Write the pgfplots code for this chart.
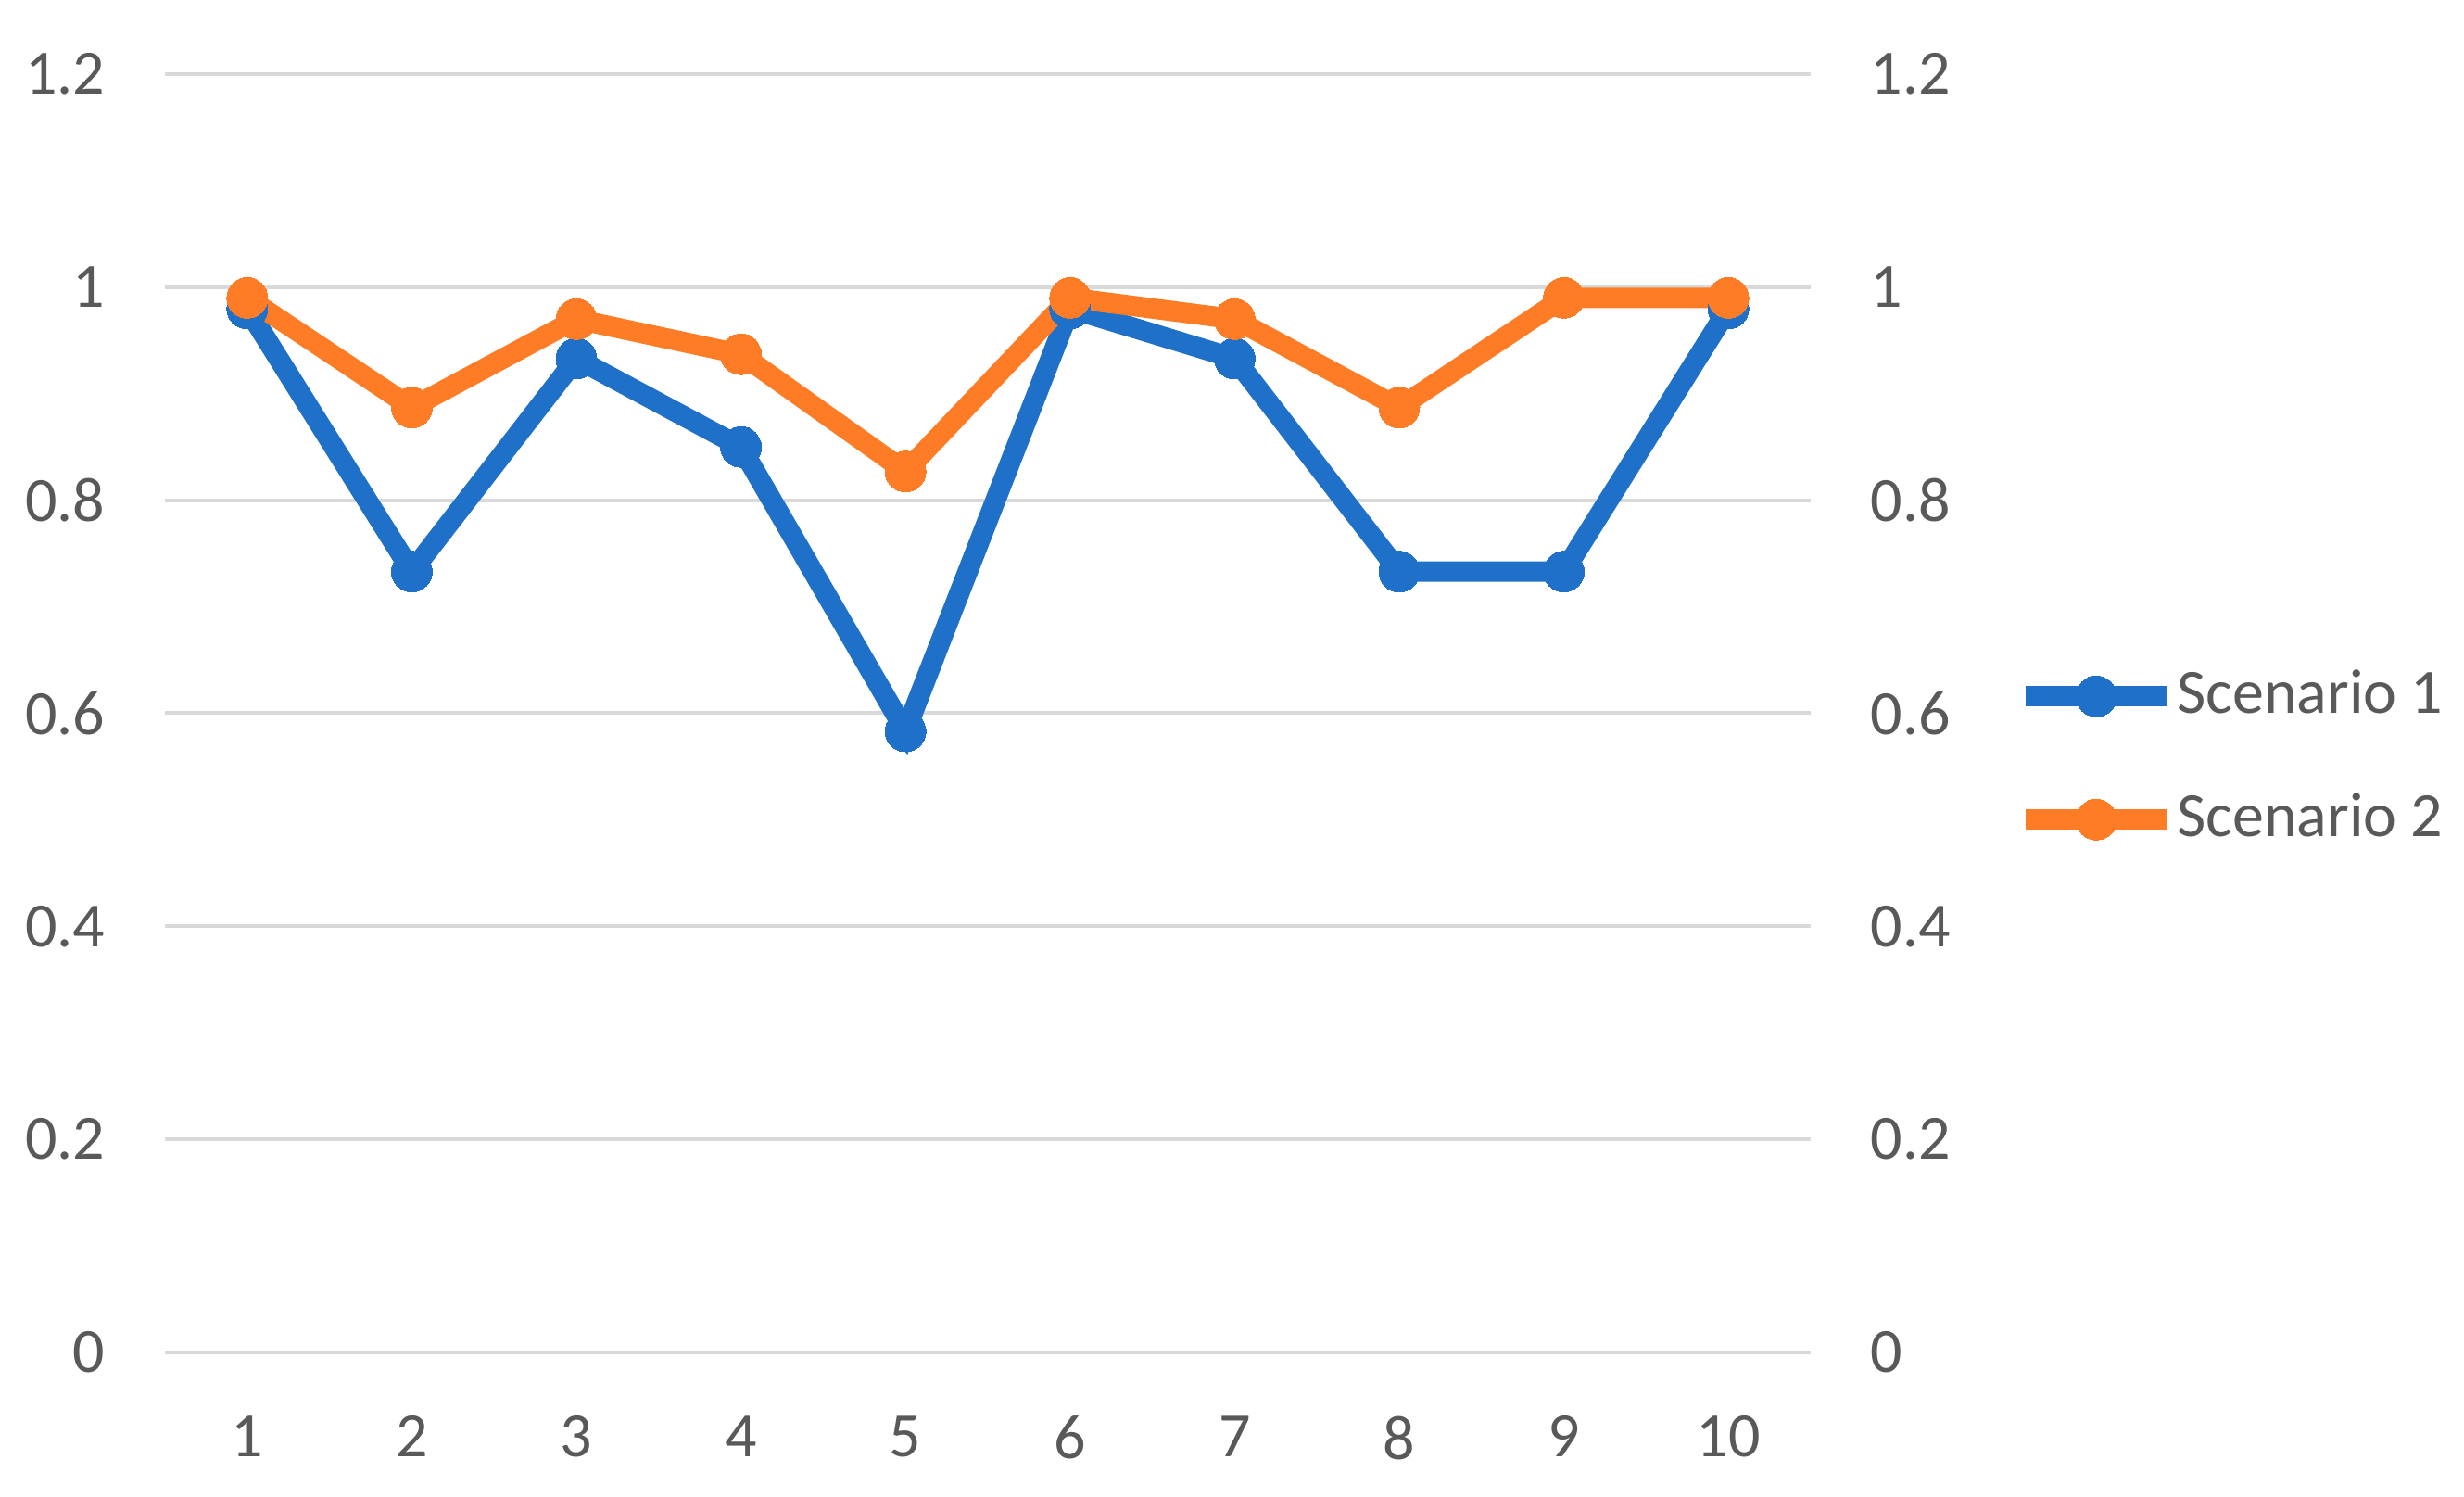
\documentclass[border=0pt]{standalone}
\usepackage{fontspec}
\setmainfont{Carlito}
\usepackage{pgfplots}
\pgfplotsset{compat=1.18}
\definecolor{sblue}{RGB}{31,112,200}
\definecolor{sorange}{RGB}{255,124,38}
\definecolor{lbl}{RGB}{89,89,89}
\definecolor{grd}{RGB}{217,217,217}
\begin{document}
\fontsize{17}{20}\selectfont
\begin{tikzpicture}
\pgfplotsset{
  common/.style={
    width=444pt, height=344.75pt, scale only axis,
    xmin=0.5, xmax=10.5, ymin=0, ymax=1.2,
    ytick={0,0.2,0.4,0.6,0.8,1,1.2},
    yticklabels={0,0.2,0.4,0.6,0.8,1,1.2},
    major tick length=0pt,
    axis line style={draw=none},
    tick label style={font=\fontsize{17}{20}\selectfont, text=lbl, inner sep=0pt},
    /pgf/number format/assume math mode=true,
    yticklabel shift=16pt,
    xticklabel shift=17pt,
  }
}
\begin{axis}[common,
  xtick={1,2,3,4,5,6,7,8,9,10},
  xticklabels={1,2,3,4,5,6,7,8,9,10},
  ymajorgrids,
  grid style={grd, line width=1pt},
  legend style={draw=none, fill=none, at={(1.1174,0.465)}, anchor=west,
    font=\fontsize{17}{20}\selectfont, text=lbl,
    nodes={inner sep=0pt}, column sep=0pt, row sep=19pt},
  legend cell align=left,
  legend image code/.code={\draw[mark repeat=2,mark phase=2,#1] plot coordinates {(0pt,0pt)(19pt,0pt)(38pt,0pt)};},
]
\coordinate (sw) at (rel axis cs:0,0);
\addplot[sblue, line width=5.5pt, mark=*, mark size=5.5pt, mark options={line width=0pt}] coordinates {
(1,0.98) (2,0.733) (3,0.933) (4,0.85) (5,0.583) (6,0.98) (7,0.933) (8,0.733) (9,0.733) (10,0.98)};
\addlegendentry{Scenario 1}
\addplot[sorange, line width=5.5pt, mark=*, mark size=5.5pt, mark options={line width=0pt}] coordinates {
(1,0.99) (2,0.887) (3,0.97) (4,0.937) (5,0.827) (6,0.99) (7,0.97) (8,0.887) (9,0.99) (10,0.99)};
\addlegendentry{Scenario 2}
\end{axis}
\begin{axis}[common,
  axis y line*=right,
  axis x line=none,
  xtick=\empty,
]
\end{axis}
\pgfresetboundingbox
\path ([shift={(-44.5pt,-39pt)}]sw) rectangle ++(664.75pt,403.75pt);
\end{tikzpicture}
\end{document}
